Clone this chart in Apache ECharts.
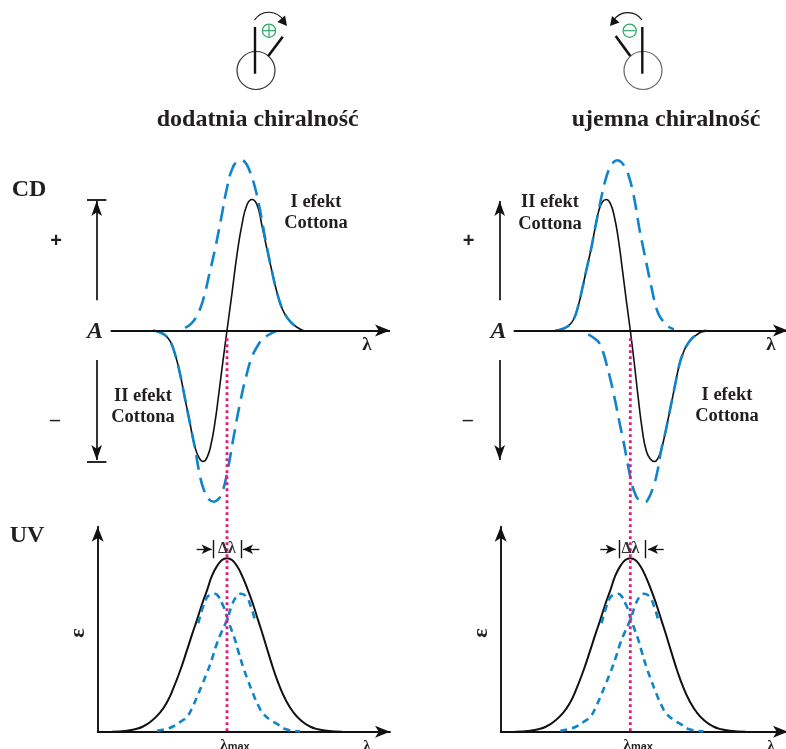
<!DOCTYPE html>
<html><head><meta charset="utf-8">
<style>html,body{margin:0;padding:0;background:#fff}#c{width:786px;height:749px}</style>
<script src="https://cdn.jsdelivr.net/npm/echarts@6/dist/echarts.min.js"></script>
</head><body><div id="c"></div>
<script>
// All x values are wavelength offsets from lambda-max; y values are relative amplitude.
const cdLeftBlackX=[-74,-68,-62,-57,-52,-47,-42,-37,-32,-28,-24,-20,-16,-12,-8,-4,0,5,10,15,20,25,30,35,40,45,50,55,60,65,70,76];
const cdLeftBlackY=[0,-0.012,-0.035,-0.08,-0.18,-0.33,-0.52,-0.71,-0.89,-0.97,-1,-0.97,-0.87,-0.7,-0.47,-0.23,0,0.286,0.58,0.81,0.96,1,0.96,0.8,0.62,0.45,0.29,0.17,0.1,0.055,0.025,0];
const cdLeftBluePosX=[-42,-36,-30,-24,-18,-12,-6,0,5,10,14,18,22,27,33,39,45,50,55,60,65,70,76];
const cdLeftBluePosY=[0.02,0.05,0.115,0.23,0.42,0.62,0.85,1.09,1.23,1.29,1.3,1.285,1.23,1.12,0.92,0.67,0.45,0.29,0.17,0.1,0.055,0.025,0];
const cdLeftBlueNegX=[-74,-68,-62,-57,-52,-47,-42,-37,-32,-27,-23,-18,-13,-9,-5,0,6,13,20,25,30,35,40,49];
const cdLeftBlueNegY=[0,-0.012,-0.035,-0.08,-0.18,-0.33,-0.52,-0.71,-0.9,-1.11,-1.22,-1.29,-1.307,-1.29,-1.24,-1.09,-0.84,-0.555,-0.325,-0.2,-0.125,-0.07,-0.04,-0.005];
const cdRightBlackX=[-75,-68,-62,-57,-52,-48,-44,-39,-35,-32,-28,-24,-20,-16,-12,-8,-4,0,4,8,12,16,20,24.3,28,31,35,38,44.4,49.4,53,56,61,66,71,76];
const cdRightBlackY=[0,0.012,0.035,0.08,0.19,0.32,0.46,0.63,0.79,0.9,0.98,1,0.97,0.87,0.7,0.47,0.23,0,-0.25,-0.52,-0.76,-0.92,-0.98,-1,-0.97,-0.91,-0.78,-0.67,-0.43,-0.25,-0.17,-0.12,-0.065,-0.035,-0.012,0];
const cdRightBluePosX=[-75,-68,-62,-57,-52,-48,-44,-39,-35,-32,-28,-24,-20,-16,-13,-9,-5,-2,2,6,9,12.7,17,21,25,28,31,34.4,39,43.7];
const cdRightBluePosY=[0,0.012,0.035,0.08,0.19,0.32,0.46,0.63,0.79,0.9,1.05,1.17,1.25,1.29,1.3,1.285,1.24,1.19,1.08,0.92,0.78,0.64,0.48,0.335,0.2,0.13,0.09,0.057,0.025,0.01];
const cdRightBlueNegX=[-42,-36,-30.6,-27,-24,-20,-17,-14,-10.6,-7,-4,-1,2,5,8,11,14.4,18,22.7,27,31,35,38,44.4,49.4,53,56,61,66,71,76];
const cdRightBlueNegY=[-0.03,-0.06,-0.1,-0.17,-0.25,-0.37,-0.47,-0.58,-0.71,-0.84,-0.96,-1.08,-1.185,-1.25,-1.29,-1.305,-1.31,-1.285,-1.2,-1.08,-0.91,-0.78,-0.67,-0.43,-0.25,-0.17,-0.12,-0.065,-0.035,-0.012,0];
const uvLeftBlackX=[-115,-100,-92,-84,-76,-67,-60,-54,-47,-40,-35,-30,-25,-20,-15,-10,-5,0,5,10,15,21,26,31,36,41,47,53,59,66,74,83,91,100,115];
const uvLeftBlackY=[0,0.006,0.014,0.03,0.06,0.11,0.17,0.245,0.35,0.47,0.56,0.645,0.735,0.815,0.9,0.955,0.99,1,0.99,0.955,0.9,0.815,0.735,0.645,0.555,0.46,0.35,0.255,0.18,0.115,0.065,0.03,0.014,0.006,0];
const uvLeftBlueAX=[-70,-62,-54,-47,-40,-35,-30,-25,-20,-15,-10,-5,0,5,9,14,19,24,28];
const uvLeftBlueAY=[0.005,0.014,0.03,0.055,0.087,0.135,0.2,0.27,0.34,0.42,0.51,0.58,0.645,0.73,0.775,0.795,0.78,0.72,0.64];
const uvLeftBlueBX=[-28.7,-24,-20,-16,-12,-8,-5,-2,0,4,8,12,16,21,26,31,36,43,50,60,73];
const uvLeftBlueBY=[0.625,0.72,0.775,0.79,0.795,0.775,0.74,0.7,0.66,0.595,0.53,0.45,0.375,0.295,0.22,0.155,0.105,0.07,0.045,0.012,0.002];
const uvRightBlackX=[-115,-100,-92,-84,-76,-67,-60,-54,-47,-40,-35,-30,-25,-20,-15,-10,-5,0,5,10,15,21,26,31,36,41,47,53,59,66,74,83,91,100,115];
const uvRightBlackY=[0,0.006,0.014,0.03,0.06,0.11,0.17,0.245,0.35,0.47,0.56,0.645,0.735,0.815,0.9,0.955,0.99,1,0.99,0.955,0.9,0.815,0.735,0.645,0.555,0.46,0.35,0.255,0.18,0.115,0.065,0.03,0.014,0.006,0];
const uvRightBlueAX=[-70,-62,-54,-47,-40,-35,-30,-25,-20,-15,-10,-5,0,5,9,14,19,24,28];
const uvRightBlueAY=[0.005,0.014,0.03,0.055,0.087,0.135,0.2,0.27,0.34,0.42,0.51,0.58,0.645,0.73,0.775,0.795,0.78,0.72,0.64];
const uvRightBlueBX=[-28.7,-24,-20,-16,-12,-8,-5,-2,0,4,8,12,16,21,26,31,36,43,50,60,73];
const uvRightBlueBY=[0.625,0.72,0.775,0.79,0.795,0.775,0.74,0.7,0.66,0.595,0.53,0.45,0.375,0.295,0.22,0.155,0.105,0.07,0.045,0.012,0.002];
const lambdaMaxOffset=0;
const cdLimit=1;
const headings=["dodatnia chiralność","ujemna chiralność"];
const effectFirst=["I efekt","Cottona"];
const effectSecond=["II efekt","Cottona"];

const zip=(x,y)=>x.map((v,i)=>[v,y[i]]);
const BLACK='#111',BLUE='#0f84c9',PINK='#e5177f',TXT='#231f20',GREEN='#2ea868';
const SERIF='"Liberation Serif","DejaVu Serif",serif';
const ARROW=[8,15];

function arrowLine(x1,y1,x2,y2,width,size){
  return [{coord:[x1,y1],symbol:'none',lineStyle:{color:BLACK,width:width,type:'solid'}},
          {coord:[x2,y2],symbol:'arrow',symbolSize:size||ARROW}];
}
function plainLine(x1,y1,x2,y2,width){
  return [{coord:[x1,y1],symbol:'none',lineStyle:{color:BLACK,width:width,type:'solid'}},
          {coord:[x2,y2],symbol:'none'}];
}
function marks(data){
  return {silent:true,animation:false,symbol:'none',label:{show:false},emphasis:{disabled:true},data:data};
}
function curve(name,gi,data,color,width,dash,z){
  return {name:name,type:'line',xAxisIndex:gi,yAxisIndex:gi,data:data,showSymbol:false,symbol:'none',
    smooth:0.5,clip:false,animation:false,silent:true,z:z||3,
    lineStyle:{color:color,width:width,type:dash||'solid',cap:'butt'}};
}
function annot(gi,data){
  return {name:'annot'+gi,type:'line',xAxisIndex:gi,yAxisIndex:gi,data:[],showSymbol:false,animation:false,silent:true,z:2,markLine:marks(data)};
}
function pink(gi){
  return {name:'lambda max',type:'line',xAxisIndex:gi,yAxisIndex:gi,data:[[lambdaMaxOffset,-0.06],[lambdaMaxOffset,-3.06]],
    showSymbol:false,symbol:'none',animation:false,silent:true,z:6,
    lineStyle:{color:PINK,width:2.8,type:[2.6,3.4],cap:'butt'}};
}
function cdAnnots(gi,axisStart,axisEnd,armX){
  return annot(gi,[
    arrowLine(axisStart,0,axisEnd,0,1.8,[9,15]),
    arrowLine(armX,0.23,armX,cdLimit-0.012,1.7),
    plainLine(armX-9.7,cdLimit,armX+9.7,cdLimit,1.8),
    arrowLine(armX,-0.225,armX,-cdLimit+0.012,1.7),
    plainLine(armX-9.7,-cdLimit,armX+9.7,-cdLimit,1.8)
  ]);
}
function uvAnnots(gi,l1,l2,lt,rt,r1,r2){
  return annot(gi,[
    arrowLine(l1,1.052,l2,1.052,1.3,[7,10]),
    arrowLine(r1,1.052,r2,1.052,1.3,[7,10]),
    plainLine(lt,1.105,lt,1.0,1.4),
    plainLine(rt,1.105,rt,1.0,1.4)
  ]);
}
const cdGridY={top:147.1,height:584.6,outerBoundsMode:'none',containLabel:false};
const uvGridY={top:526.7,height:205,outerBoundsMode:'none',containLabel:false};
const grids=[
  {left:87,width:303,...cdGridY},
  {left:490.3,width:297.7,...cdGridY},
  {left:97.7,width:292.3,...uvGridY},
  {left:500.7,width:287.3,...uvGridY}
];
function hiddenX(i,min,max){return {type:'value',gridIndex:i,min:min,max:max,show:false}}
function hiddenY(i){return {type:'value',gridIndex:i,min:-3.0626,max:1.4,show:false}}
function uvX(i,min,max){return {type:'value',gridIndex:i,min:min,max:max,
  axisLine:{show:true,onZero:true,symbol:['none','arrow'],symbolSize:[9,15],lineStyle:{color:BLACK,width:1.9}},
  axisTick:{show:false},splitLine:{show:false},
  axisLabel:{show:true,customValues:[lambdaMaxOffset],margin:6,padding:[0,0,0,16],hideOverlap:false,formatter:()=>'{a|λ}{b|max}',
    rich:{a:{fontFamily:SERIF,fontWeight:'bold',fontSize:15,color:TXT},b:{fontFamily:'"Liberation Sans",sans-serif',fontWeight:'bold',fontSize:11,color:TXT,padding:[3,0,0,0]}}}};}
function uvY(i){return {type:'value',gridIndex:i,min:0,max:1.182,
  axisLine:{show:true,onZero:false,symbol:['none','arrow'],symbolSize:[9,15],lineStyle:{color:BLACK,width:1.9}},
  axisTick:{show:false},axisLabel:{show:false},splitLine:{show:false}};}

function txt(text,x,y,font,extra){
  return Object.assign({type:'text',x:x,y:y,silent:true,z:20,
    style:Object.assign({text:text,font:font,fill:TXT,align:'center',verticalAlign:'middle'},extra||{})});
}
const B16='bold 18.5px '+SERIF, B21='bold 24px '+SERIF, B20='bold 24px '+SERIF;
const gfx=[
  txt(headings[0],257.7,120,B20), txt(headings[1],666,120,B20),
  txt('CD',29,190,B21), txt('UV',27,536,B21),
  txt(effectFirst[0],316,202,B16), txt(effectFirst[1],316,223,B16),
  txt(effectSecond[0],143,396.5,B16), txt(effectSecond[1],143,417.5,B16),
  txt(effectSecond[0],550,202,B16), txt(effectSecond[1],550,224,B16),
  txt(effectFirst[0],727,395.5,B16), txt(effectFirst[1],727,416.5,B16),
  txt('A',95,331.5,'italic bold 24px '+SERIF), txt('A',498.5,331.5,'italic bold 24px '+SERIF),
  txt('λ',367,345,'bold 19px '+SERIF), txt('λ',771,345,'bold 19px '+SERIF),
  txt('λ',367,746,'bold 15px '+SERIF), txt('λ',771,746,'bold 15px '+SERIF),
  txt('+',56,241,'bold 20px "Liberation Sans",sans-serif'), txt('+',468.7,241,'bold 20px "Liberation Sans",sans-serif'),
  txt('–',55,421,'bold 20px "Liberation Serif",serif'), txt('–',467.7,421,'bold 20px "Liberation Serif",serif'),
  {type:'text',x:78,y:633,rotation:Math.PI/2,silent:true,z:20,style:{text:'ε',font:'bold 22px '+SERIF,fill:TXT,align:'center',verticalAlign:'middle'}},
  {type:'text',x:481,y:633,rotation:Math.PI/2,silent:true,z:20,style:{text:'ε',font:'bold 22px '+SERIF,fill:TXT,align:'center',verticalAlign:'middle'}},
  txt('Δλ',227,549,'bold 16px '+SERIF,{fill:'#333'}), txt('Δλ',630.5,549,'bold 16px '+SERIF,{fill:'#333'})
];
function icon(cx,vx,bar,arc,head,gx,plus,ring){
  const line=(x1,y1,x2,y2,w,c)=>({type:'line',silent:true,z:20,shape:{x1,y1,x2,y2},style:{stroke:c||'#111',lineWidth:w}});
  gfx.push({type:'circle',silent:true,z:19,shape:{cx:cx,cy:70.5,r:19},style:{fill:'#fff',stroke:ring,lineWidth:1.2}});
  gfx.push(line(vx,27,vx,73.7,2.4));
  gfx.push(line(bar[0],bar[1],bar[2],bar[3],2.6));
  gfx.push({type:'bezierCurve',silent:true,z:20,shape:arc,style:{stroke:'#111',lineWidth:1.2,fill:null}});
  gfx.push({type:'polygon',silent:true,z:20,shape:{points:head},style:{fill:'#111'}});
  gfx.push({type:'circle',silent:true,z:20,shape:{cx:gx,cy:30.7,r:6.6},style:{fill:'#fff',stroke:GREEN,lineWidth:1.2}});
  gfx.push(line(gx-6,30.7,gx+6,30.7,1.2,GREEN));
  if(plus) gfx.push(line(gx,24.7,gx,36.7,1.2,GREEN));
}
icon(256,255,[268.3,56,282.7,36.7],{x1:254.5,y1:20,cpx1:262,cpy1:9,cpx2:277,cpy2:10,x2:284,y2:21},[[287,26],[277.5,22],[285,15.5]],269,true,'#333');
icon(643,642.3,[630.3,56,615.7,36],{x1:642,y1:20,cpx1:635,cpy1:10,cpx2:620,cpy2:10,x2:613,y2:21},[[610,26],[619.5,22.5],[612,16]],629.7,false,'#666');

const option={
  animation:false,backgroundColor:'#fff',
  grid:grids,
  xAxis:[hiddenX(0,-140,163),hiddenX(1,-140,157.7),uvX(2,-129.3,163),uvX(3,-129.6,157.7)],
  yAxis:[hiddenY(0),hiddenY(1),uvY(2),uvY(3)],
  graphic:{elements:gfx},
  series:[
    cdAnnots(0,-116.3,163,-130.3),
    cdAnnots(1,-116.6,157.7,-130.6),
    curve('CD black L',0,zip(cdLeftBlackX,cdLeftBlackY),BLACK,1.6),
    curve('CD blue L+',0,zip(cdLeftBluePosX,cdLeftBluePosY),BLUE,2.6,[15,8],4),
    curve('CD blue L-',0,zip(cdLeftBlueNegX,cdLeftBlueNegY),BLUE,2.6,[15,8],4),
    curve('CD black R',1,zip(cdRightBlackX,cdRightBlackY),BLACK,1.6),
    curve('CD blue R+',1,zip(cdRightBluePosX,cdRightBluePosY),BLUE,2.6,[15,8],4),
    curve('CD blue R-',1,zip(cdRightBlueNegX,cdRightBlueNegY),BLUE,2.6,[15,8],4),
    pink(0),pink(1),
    uvAnnots(2,-30.3,-15.3,-13.7,14,32.3,16),
    uvAnnots(3,-30,-14.6,-11.3,15,33.4,17.7),
    curve('UV black L',2,zip(uvLeftBlackX,uvLeftBlackY),BLACK,2),
    curve('UV blue La',2,zip(uvLeftBlueAX,uvLeftBlueAY),BLUE,2.6,[7,5],4),
    curve('UV blue Lb',2,zip(uvLeftBlueBX,uvLeftBlueBY),BLUE,2.6,[7,5],4),
    curve('UV black R',3,zip(uvRightBlackX,uvRightBlackY),BLACK,2),
    curve('UV blue Ra',3,zip(uvRightBlueAX,uvRightBlueAY),BLUE,2.6,[7,5],4),
    curve('UV blue Rb',3,zip(uvRightBlueBX,uvRightBlueBY),BLUE,2.6,[7,5],4)
  ]
};
echarts.init(document.getElementById('c'),null,{renderer:'canvas'}).setOption(option);
</script></body></html>
